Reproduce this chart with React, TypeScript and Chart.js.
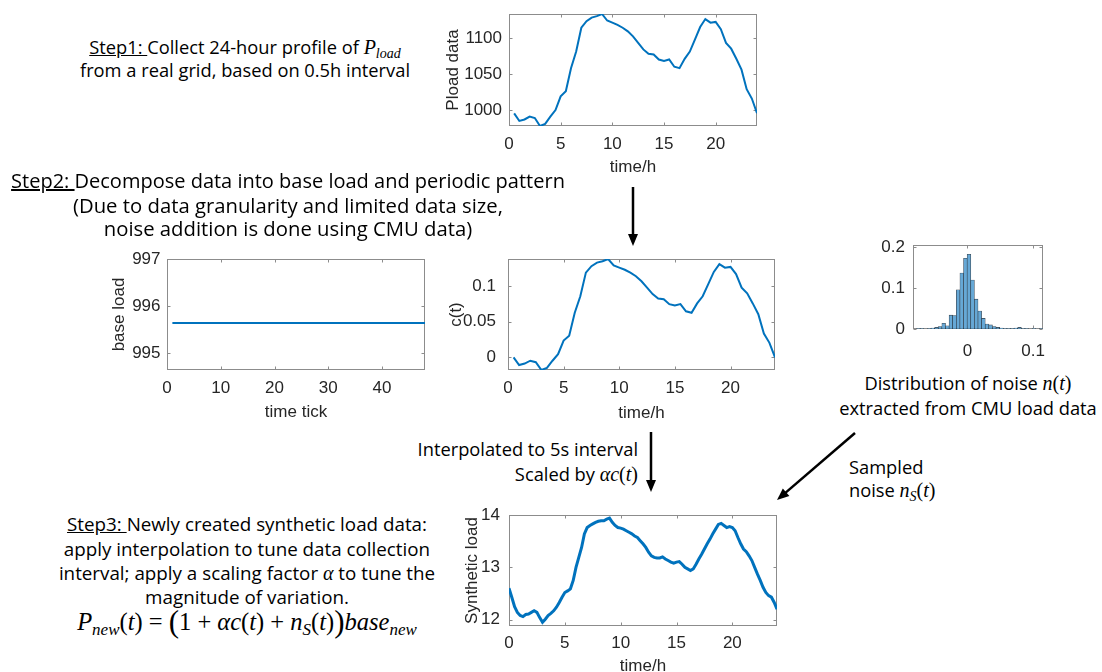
import React, { useEffect, useRef } from 'react';
import { Chart, registerables } from 'chart.js';

Chart.register(...registerables);

// ---------------- data ----------------
const halfHourTimes = [0.5, 1, 1.5, 2, 2.5, 3, 3.5, 4, 4.5, 5, 5.5, 6, 6.5, 7, 7.5, 8, 8.5, 9, 9.5, 10, 10.5, 11, 11.5, 12, 12.5, 13, 13.5, 14, 14.5, 15, 15.5, 16, 16.5, 17, 17.5, 18, 18.5, 19, 19.5, 20, 20.5, 21, 21.5, 22, 22.5, 23, 23.5, 24];
const ploadData = [995.5, 985, 987, 991, 989, 978, 981, 991, 1000, 1019, 1026, 1058, 1081, 1114, 1123, 1128, 1130, 1133, 1124, 1121, 1118, 1114, 1109, 1102, 1093, 1084, 1078, 1077, 1070, 1068, 1070, 1060, 1058, 1071, 1081, 1098, 1115, 1126, 1121, 1122, 1112, 1093, 1085, 1071, 1056, 1029, 1016, 995.6];
const hourXTicks = [0, 5, 10, 15, 20];
const ploadYTicks = [1000, 1050, 1100];

const timeTickIndex = [1, 2, 3, 4, 5, 6, 7, 8, 9, 10, 11, 12, 13, 14, 15, 16, 17, 18, 19, 20, 21, 22, 23, 24, 25, 26, 27, 28, 29, 30, 31, 32, 33, 34, 35, 36, 37, 38, 39, 40, 41, 42, 43, 44, 45, 46, 47, 48];
const baseLoad = [995.64, 995.64, 995.64, 995.64, 995.64, 995.64, 995.64, 995.64, 995.64, 995.64, 995.64, 995.64, 995.64, 995.64, 995.64, 995.64, 995.64, 995.64, 995.64, 995.64, 995.64, 995.64, 995.64, 995.64, 995.64, 995.64, 995.64, 995.64, 995.64, 995.64, 995.64, 995.64, 995.64, 995.64, 995.64, 995.64, 995.64, 995.64, 995.64, 995.64, 995.64, 995.64, 995.64, 995.64, 995.64, 995.64, 995.64, 995.64];
const baseXTicks = [0, 10, 20, 30, 40];
const baseYTicks = [995, 996, 997];

const cData = [0, -0.0107, -0.0087, -0.0047, -0.0067, -0.0177, -0.0147, -0.0047, 0.0044, 0.0235, 0.0305, 0.0626, 0.0857, 0.1189, 0.1279, 0.1329, 0.1349, 0.138, 0.1289, 0.1259, 0.1229, 0.1189, 0.1139, 0.1068, 0.0978, 0.0888, 0.0827, 0.0817, 0.0747, 0.0727, 0.0747, 0.0646, 0.0626, 0.0757, 0.0857, 0.1028, 0.1199, 0.1309, 0.1259, 0.1269, 0.1169, 0.0978, 0.0898, 0.0757, 0.0606, 0.0335, 0.0204, 0];
const cYTicks = [0, 0.05, 0.1];

const noiseBinCenters = [-0.08005, -0.07455, -0.06905, -0.06355, -0.05805, -0.05255, -0.04705, -0.04155, -0.03605, -0.03055, -0.02505, -0.01955, -0.01405, -0.00855, -0.00305, 0.00245, 0.00795, 0.01345, 0.01895, 0.02445, 0.02995, 0.03545, 0.04095, 0.04645, 0.05195, 0.05745, 0.06295, 0.06845, 0.07395, 0.07945, 0.08495, 0.09045, 0.09595, 0.10145, 0.10695, 0.11245];
const noiseProb = [0, 0.001, 0.001, 0, 0.001, 0.002, 0.004, 0.006, 0.014, 0.008, 0.034, 0.033, 0.096, 0.137, 0.173, 0.183, 0.12, 0.073, 0.044, 0.026, 0.012, 0.01, 0.006, 0.004, 0.002, 0.001, 0.001, 0.001, 0.002, 0.004, 0.001, 0.001, 0, 0.001, 0, 0.001];
const noiseXTicks = [0, 0.1];
const noiseYTicks = [0, 0.1, 0.2];

const synthTimes = [0, 0.25, 0.5, 0.75, 1, 1.25, 1.5, 1.75, 2, 2.25, 2.5, 2.75, 3, 3.25, 3.5, 3.75, 4, 4.25, 4.5, 4.75, 5, 5.25, 5.5, 5.75, 6, 6.25, 6.5, 6.75, 7, 7.25, 7.5, 7.75, 8, 8.25, 8.5, 8.75, 9, 9.25, 9.5, 9.75, 10, 10.25, 10.5, 10.75, 11, 11.25, 11.5, 11.75, 12, 12.25, 12.5, 12.75, 13, 13.25, 13.5, 13.75, 14, 14.25, 14.5, 14.75, 15, 15.25, 15.5, 15.75, 16, 16.25, 16.5, 16.75, 17, 17.25, 17.5, 17.75, 18, 18.25, 18.5, 18.75, 19, 19.25, 19.5, 19.75, 20, 20.25, 20.5, 20.75, 21, 21.25, 21.5, 21.75, 22, 22.25, 22.5, 22.75, 23, 23.25, 23.5, 23.75, 24];
const synthLoad = [12.6, 12.43, 12.25, 12.14, 12.08, 12.06, 12.1, 12.11, 12.14, 12.17, 12.14, 12.04, 11.95, 12.01, 12.08, 12.12, 12.17, 12.24, 12.33, 12.43, 12.52, 12.55, 12.59, 12.75, 13.0, 13.19, 13.38, 13.64, 13.76, 13.8, 13.83, 13.86, 13.88, 13.89, 13.89, 13.92, 13.94, 13.86, 13.8, 13.76, 13.75, 13.73, 13.7, 13.67, 13.64, 13.6, 13.57, 13.51, 13.45, 13.38, 13.29, 13.22, 13.19, 13.18, 13.18, 13.2, 13.16, 13.13, 13.1, 13.08, 13.1, 13.11, 13.06, 13.0, 12.97, 12.94, 12.97, 13.06, 13.16, 13.25, 13.35, 13.45, 13.54, 13.64, 13.73, 13.82, 13.84, 13.8, 13.76, 13.78, 13.76, 13.7, 13.57, 13.45, 13.35, 13.3, 13.22, 13.13, 13.0, 12.87, 12.75, 12.62, 12.52, 12.46, 12.43, 12.33, 12.2];
const synthYTicks = [12, 13, 14];

// ---------------- styles ----------------
const BLUE = '#0072BD';
const AX_COLOR = '#262626';
const BOX_COLOR = '#8c8c8c';
const TICK_FONT = { family: '"Liberation Sans", Arial, sans-serif', size: 17 };
const TEXT_FONT = '"Open Sans", "Noto Sans", sans-serif';
const MATH_FONT = '"Liberation Serif", "DejaVu Serif", serif';

const boxPlugin = {
  id: 'matlabBox',
  beforeDatasetsDraw(chart: any) {
    const { ctx, chartArea } = chart;
    const l = Math.round(chartArea.left) + 0.5;
    const t = Math.round(chartArea.top) + 0.5;
    const r = Math.round(chartArea.right) - 0.5;
    const b = Math.round(chartArea.bottom) - 0.5;
    const xs = chart.scales.x;
    const ys = chart.scales.y;
    const tl = 3;
    ctx.save();
    ctx.strokeStyle = BOX_COLOR;
    ctx.lineWidth = 1;
    ctx.strokeRect(l, t, r - l, b - t);
    ctx.beginPath();
    xs.ticks.forEach((tk: any) => {
      const px = Math.round(xs.getPixelForValue(tk.value)) + 0.5;
      ctx.moveTo(px, b); ctx.lineTo(px, b - tl);
      ctx.moveTo(px, t); ctx.lineTo(px, t + tl);
    });
    ys.ticks.forEach((tk: any) => {
      const py = Math.round(ys.getPixelForValue(tk.value)) + 0.5;
      ctx.moveTo(l, py); ctx.lineTo(l + tl, py);
      ctx.moveTo(r, py); ctx.lineTo(r - tl, py);
    });
    ctx.stroke();
    ctx.restore();
  },
};

interface PanelSpec {
  L: number; T: number; R: number; B: number;
  yw: number; xh: number; tp: number; rp: number;
  xMin: number; xMax: number; yMin: number; yMax: number;
  xTicks: number[]; yTicks: number[];
  xPad: number; yPad: number;
  xTitle?: string; yTitle?: string; xTitleY?: number; yTitleX?: number;
  kind: 'line' | 'bar';
  xs: number[]; ys: number[];
  lineWidth?: number;
}

const LH = TICK_FONT.size * 1.2;

function buildConfig(s: PanelSpec): any {
  const canvasLeft = s.L - s.yw;
  const canvasBottom = s.B + s.xh;
  const xTitlePad = s.xTitleY !== undefined ? canvasBottom - s.xTitleY - LH / 2 : 0;
  const yTitlePad = s.yTitleX !== undefined ? s.yTitleX - canvasLeft - LH / 2 : 0;
  const points = s.xs.map((x, i) => ({ x, y: s.ys[i] }));
  const dataset: any = s.kind === 'line'
    ? { data: points, borderColor: BLUE, borderWidth: s.lineWidth || 2, pointRadius: 0, tension: 0, fill: false }
    : { data: points, backgroundColor: 'rgb(102,168,214)', borderColor: 'rgba(20,30,40,0.85)', borderWidth: 0.6, borderSkipped: false, barPercentage: 1, categoryPercentage: 1 };
  return {
    type: s.kind,
    data: { datasets: [dataset] },
    options: {
      responsive: false,
      animation: false,
      events: [],
      layout: { padding: { top: s.tp, right: s.rp, left: 0, bottom: 0 } },
      plugins: { legend: { display: false }, tooltip: { enabled: false }, title: { display: false } },
      scales: {
        x: {
          type: 'linear', position: 'bottom', min: s.xMin, max: s.xMax, bounds: 'data', offset: false,
          afterBuildTicks: (sc: any) => { sc.ticks = s.xTicks.map((v) => ({ value: v })); },
          afterFit: (sc: any) => { sc.height = s.xh; sc.paddingLeft = 0; sc.paddingRight = 0; },
          grid: { display: false, drawTicks: false, offset: false },
          border: { display: false },
          ticks: { color: AX_COLOR, font: TICK_FONT, padding: s.xPad, maxRotation: 0, minRotation: 0, autoSkip: false, callback: (v: any) => String(v) },
          title: s.xTitle ? { display: true, text: s.xTitle, color: AX_COLOR, font: TICK_FONT, padding: { top: 0, bottom: xTitlePad } } : { display: false },
        },
        y: {
          type: 'linear', position: 'left', min: s.yMin, max: s.yMax, bounds: 'data', beginAtZero: false,
          afterBuildTicks: (sc: any) => { sc.ticks = s.yTicks.map((v) => ({ value: v })); },
          afterFit: (sc: any) => { sc.width = s.yw; sc.paddingTop = 0; sc.paddingBottom = 0; },
          grid: { display: false, drawTicks: false },
          border: { display: false },
          ticks: { color: AX_COLOR, font: TICK_FONT, padding: s.yPad, autoSkip: false, callback: (v: any) => String(v) },
          title: s.yTitle ? { display: true, text: s.yTitle, color: AX_COLOR, font: TICK_FONT, padding: { top: yTitlePad, bottom: 0 } } : { display: false },
        },
      },
    },
    plugins: [boxPlugin],
  };
}

function Panel({ spec }: { spec: PanelSpec }) {
  const ref = useRef<HTMLCanvasElement>(null);
  const w = spec.yw + (spec.R - spec.L) + spec.rp;
  const h = spec.tp + (spec.B - spec.T) + spec.xh;
  useEffect(() => {
    const chart = new Chart(ref.current as HTMLCanvasElement, buildConfig(spec));
    return () => chart.destroy();
  }, []);
  return (
    <canvas
      ref={ref}
      width={w}
      height={h}
      style={{ position: 'absolute', left: spec.L - spec.yw, top: spec.T - spec.tp, width: w, height: h }}
    />
  );
}

const panels: PanelSpec[] = [
  {
    L: 509, T: 14, R: 757, B: 126, yw: 70, xh: 50, tp: 12, rp: 14,
    xMin: 0, xMax: 24, yMin: 978, yMax: 1133, xTicks: hourXTicks, yTicks: ploadYTicks,
    xPad: 8.6, yPad: 7, xTitle: 'time/h', yTitle: 'Pload data', xTitleY: 167, yTitleX: 453,
    kind: 'line', xs: halfHourTimes, ys: ploadData,
  },
  {
    L: 167, T: 259, R: 425, B: 370, yw: 70, xh: 50, tp: 12, rp: 14,
    xMin: 0, xMax: 48, yMin: 994.64, yMax: 997, xTicks: baseXTicks, yTicks: baseYTicks,
    xPad: 8.6, yPad: 6.5, xTitle: 'time tick', yTitle: 'base load', xTitleY: 412, yTitleX: 119,
    kind: 'line', xs: timeTickIndex, ys: baseLoad,
  },
  {
    L: 508, T: 259, R: 775, B: 370, yw: 70, xh: 50, tp: 12, rp: 14,
    xMin: 0, xMax: 24, yMin: -0.0177, yMax: 0.138, xTicks: hourXTicks, yTicks: cYTicks,
    xPad: 8.6, yPad: 12, xTitle: 'time/h', yTitle: 'c(t)', xTitleY: 413, yTitleX: 456,
    kind: 'line', xs: halfHourTimes, ys: cData,
  },
  {
    L: 913, T: 245, R: 1043, B: 329, yw: 70, xh: 40, tp: 12, rp: 14,
    xMin: -0.0828, xMax: 0.1152, yMin: 0, yMax: 0.2056, xTicks: noiseXTicks, yTicks: noiseYTicks,
    xPad: 12.6, yPad: 8,
    kind: 'bar', xs: noiseBinCenters, ys: noiseProb,
  },
  {
    L: 509, T: 515, R: 777, B: 626, yw: 70, xh: 45, tp: 12, rp: 14,
    xMin: 0, xMax: 24, yMin: 11.88, yMax: 14.0, xTicks: hourXTicks, yTicks: synthYTicks,
    xPad: 6.8, yPad: 9, xTitle: 'time/h', yTitle: 'Synthetic load', xTitleY: 666, yTitleX: 472,
    kind: 'line', xs: synthTimes, ys: synthLoad, lineWidth: 3,
  },
];

// ---------------- text helpers ----------------
function Txt({ x, y, align, size, children }: { x: number; y: number; align: 'left' | 'center' | 'right'; size?: number; children: any }) {
  const tx = align === 'center' ? 'translateX(-50%)' : align === 'right' ? 'translateX(-100%)' : 'none';
  return (
    <div
      style={{
        position: 'absolute', left: x, top: y - 12, height: 24, lineHeight: '24px',
        whiteSpace: 'nowrap', transform: tx, fontFamily: TEXT_FONT, fontSize: size || 18.3, color: '#000',
      }}
    >
      {children}
    </div>
  );
}

const M = ({ s, children }: { s?: number; children: any }) => (
  <span style={{ fontFamily: MATH_FONT, fontStyle: 'italic', fontSize: s || 20 }}>{children}</span>
);
const U = ({ s, children }: { s?: number; children: any }) => (
  <span style={{ fontFamily: MATH_FONT, fontStyle: 'normal', fontSize: s || 20 }}>{children}</span>
);
const Sub = ({ s, children }: { s?: number; children: any }) => (
  <span style={{ fontFamily: MATH_FONT, fontStyle: 'italic', fontSize: s || 14, verticalAlign: '-0.3em', lineHeight: 0 }}>{children}</span>
);
const Big = ({ s, children }: { s?: number; children: any }) => (
  <span style={{ fontFamily: MATH_FONT, fontStyle: 'normal', fontSize: s || 26, lineHeight: 0, verticalAlign: '-0.05em' }}>{children}</span>
);

function Arrow({ x1, y1, x2, y2 }: { x1: number; y1: number; x2: number; y2: number }) {
  const dx = x2 - x1;
  const dy = y2 - y1;
  const len = Math.sqrt(dx * dx + dy * dy);
  const ux = dx / len;
  const uy = dy / len;
  const hl = 12;
  const hw = 5;
  const bx = x2 - ux * hl;
  const by = y2 - uy * hl;
  const p1 = `${x2},${y2}`;
  const p2 = `${bx - uy * hw},${by + ux * hw}`;
  const p3 = `${bx + uy * hw},${by - ux * hw}`;
  return (
    <g>
      <line x1={x1} y1={y1} x2={bx + ux * 1} y2={by + uy * 1} stroke="#000" strokeWidth={2.5} />
      <polygon points={`${p1} ${p2} ${p3}`} fill="#000" />
    </g>
  );
}

const FM = 24.5; // formula math size
const FS = 17; // formula subscript size

export default function App() {
  return (
    <div
      style={{
        position: 'absolute', left: 0, top: 0, width: 1102, height: 672,
        overflow: 'hidden', background: '#fff',
      }}
    >
      {panels.map((p, i) => (
        <Panel key={i} spec={p} />
      ))}

      <Txt x={245} y={47} align="center">
        <u>Step1: </u>Collect 24-hour profile of <M>P</M><Sub>load</Sub>
      </Txt>
      <Txt x={245} y={70} align="center">from a real grid, based on 0.5h interval</Txt>

      <Txt x={288} y={181} align="center" size={20}>
        <u>Step2: </u>Decompose data into base load and periodic pattern
      </Txt>
      <Txt x={288} y={205} align="center" size={20.3}>(Due to data granularity and limited data size,</Txt>
      <Txt x={288} y={228} align="center" size={20.3}>noise addition is done using CMU data)</Txt>

      <Txt x={968} y={383} align="center">
        Distribution of noise <M>n</M><U>(</U><M>t</M><U>)</U>
      </Txt>
      <Txt x={968} y={408} align="center">extracted from CMU load data</Txt>

      <Txt x={638} y={449} align="right">Interpolated to 5s interval</Txt>
      <Txt x={638} y={474} align="right">
        Scaled by <M>αc</M><U>(</U><M>t</M><U>)</U>
      </Txt>

      <Txt x={849} y={467} align="left">Sampled</Txt>
      <Txt x={849} y={490} align="left">
        noise <M>n</M><Sub>S</Sub><U>(</U><M>t</M><U>)</U>
      </Txt>

      <Txt x={247} y={524} align="center" size={18.8}>
        <u>Step3: </u>Newly created synthetic load data:
      </Txt>
      <Txt x={247} y={549} align="center" size={18.8}>apply interpolation to tune data collection</Txt>
      <Txt x={247} y={573} align="center" size={18.8}>
        interval; apply a scaling factor <M>α</M> to tune the
      </Txt>
      <Txt x={247} y={597} align="center" size={18.8}>magnitude of variation.</Txt>
      <Txt x={247} y={622} align="center">
        <M s={FM}>P</M><Sub s={FS}>new</Sub><U s={FM}>(</U><M s={FM}>t</M><U s={FM}>) = </U><Big s={31}>(</Big><U s={FM}>1 + </U><M s={FM}>αc</M><U s={FM}>(</U><M s={FM}>t</M><U s={FM}>) + </U><M s={FM}>n</M><Sub s={FS}>S</Sub><U s={FM}>(</U><M s={FM}>t</M><U s={FM}>)</U><Big s={31}>)</Big><M s={FM}>base</M><Sub s={FS}>new</Sub>
      </Txt>

      <svg width={1102} height={672} style={{ position: 'absolute', left: 0, top: 0, pointerEvents: 'none' }}>
        <Arrow x1={633} y1={187} x2={633} y2={246} />
        <Arrow x1={651} y1={432} x2={651} y2={492} />
        <Arrow x1={855} y1={433} x2={777} y2={500} />
      </svg>
    </div>
  );
}
